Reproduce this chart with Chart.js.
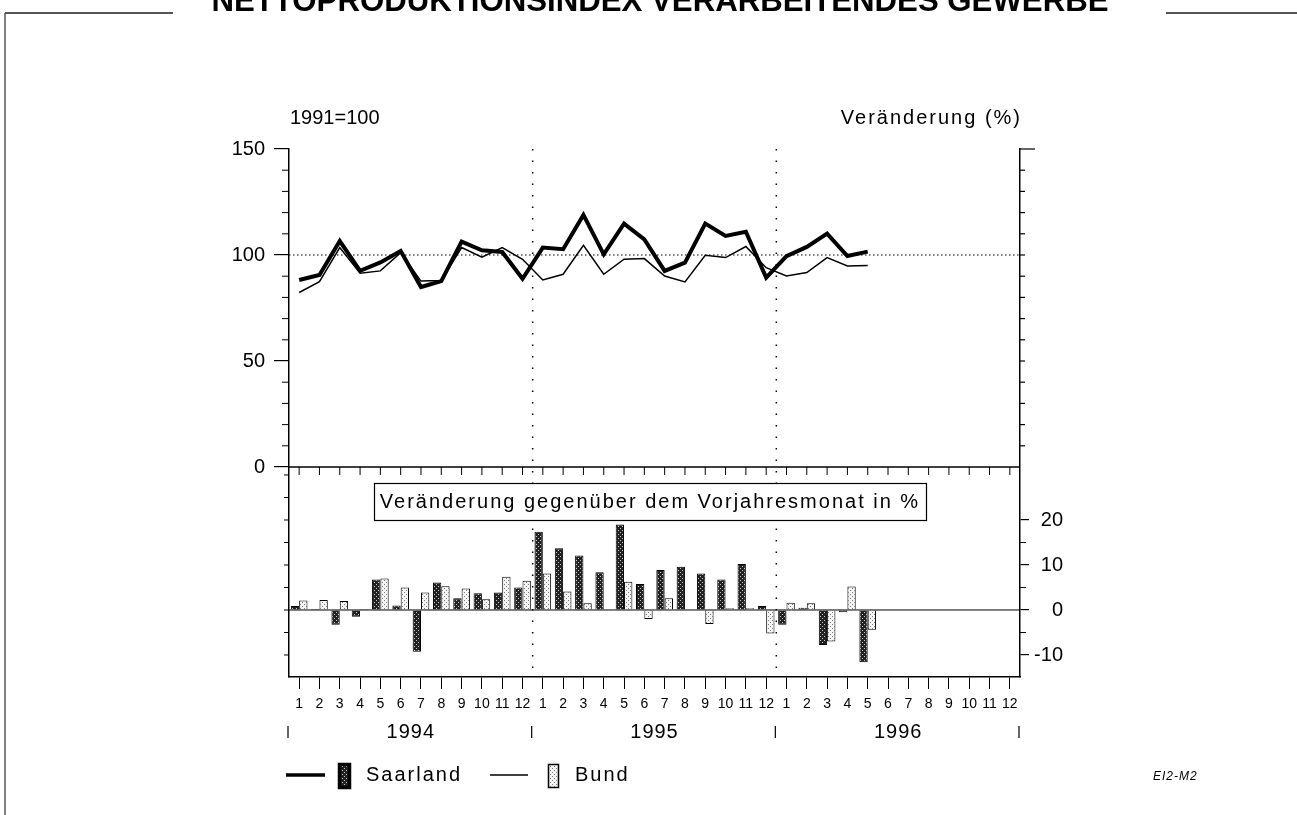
<!DOCTYPE html>
<html>
<head>
<meta charset="utf-8">
<title>Nettoproduktionsindex Verarbeitendes Gewerbe</title>
<script src="https://cdn.jsdelivr.net/npm/chart.js@4.4.1/dist/chart.umd.min.js"></script>
<style>
  html, body { margin: 0; padding: 0; background: #fff; }
  canvas { display: block; }
</style>
</head>
<body>
<canvas id="plotChart" width="1297" height="815"></canvas>
<script>
// Nettoproduktionsindex verarbeitendes Gewerbe: Saarland vs. Bund, 1994-1996

const FONT = '"Liberation Sans", Arial, Helvetica, sans-serif';

// Categories: months of three years
const years = ["1994", "1995", "1996"];
const monthNames = ["1", "2", "3", "4", "5", "6", "7", "8", "9", "10", "11", "12"];
const months = [].concat(monthNames, monthNames, monthNames);

// Index values (1991=100)
const saarIndex = [
  88.2, 90.6, 106.6, 92.5, 96.5, 101.9, 84.9, 87.7, 106.3, 102.2, 101.4, 88.8,
  103.5, 102.7, 118.9, 100.3, 114.8, 107.4, 92.5, 96.4, 114.8, 109.0, 111.0, 89.3,
  99.5, 103.8, 110.1, 99.5, 101.6, null, null, null, null, null, null, null
];
const bundIndex = [
  82.3, 87.4, 103.5, 91.4, 92.5, 101.1, 87.7, 88.0, 103.5, 99.0, 103.5, 98.0,
  88.2, 90.9, 104.6, 90.9, 98.0, 98.3, 90.1, 87.3, 99.9, 98.8, 104.0, 94.0,
  90.1, 91.7, 98.8, 94.8, 95.1, null, null, null, null, null, null, null
];

// Change against the same month of the previous year (%)
const saarChange = [
  0.9, 0.2, -3.3, -1.5, 6.8, 1.0, -9.3, 6.1, 2.6, 3.7, 3.9, 5.0,
  17.4, 13.7, 12.1, 8.4, 19.0, 5.8, 8.9, 9.6, 8.1, 6.8, 10.2, 0.9,
  -3.3, 0.5, -7.8, -0.5, -11.6, null, null, null, null, null, null, null
];
const bundChange = [
  2.1, 2.2, 2.0, 0.2, 7.0, 5.0, 3.9, 5.3, 4.8, 2.4, 7.4, 6.5,
  8.1, 4.1, 1.5, 0.0, 6.3, -2.0, 2.6, 0.0, -3.1, 0.4, 0.4, -5.2,
  1.6, 1.5, -7.0, 5.2, -4.4, null, null, null, null, null, null, null
];

// Tick labels
const indexTicks = [0, 50, 100, 150];
const changeTicks = [-10, 0, 10, 20];

var ctx = document.getElementById("plotChart").getContext("2d");

// stippled fills like the printed original
function makePattern(bg, dot) {
  const c = document.createElement("canvas");
  c.width = 4; c.height = 4;
  const g = c.getContext("2d");
  g.fillStyle = bg;
  g.fillRect(0, 0, 4, 4);
  g.fillStyle = dot;
  g.fillRect(0, 0, 1, 1);
  g.fillRect(2, 2, 1, 1);
  return ctx.createPattern(c, "repeat");
}
const darkFill = makePattern("#222", "#c8c8c8");
const lightFill = makePattern("#f4f4f4", "#7a7a7a");

function line(c, x1, y1, x2, y2, w) {
  c.lineWidth = w;
  c.beginPath();
  c.moveTo(x1, y1);
  c.lineTo(x2, y2);
  c.stroke();
}

// dotted reference lines under the data
const guides = {
  id: "guides",
  beforeDatasetsDraw(chart) {
    const c = chart.ctx, a = chart.chartArea;
    const x = chart.scales.x, yI = chart.scales.y;
    c.save();
    c.strokeStyle = "#000";
    c.setLineDash([1.5, 2.5]);
    const y100 = yI.getPixelForValue(100);
    line(c, a.left, y100, a.right, y100, 1.2);
    c.setLineDash([1.5, 10]);
    for (let k = 1; k < years.length; k++) {
      const px = (x.getPixelForValue(k * 12 - 1) + x.getPixelForValue(k * 12)) / 2;
      line(c, px, a.top, px, a.bottom, 1.5);
    }
    c.restore();
  }
};

// frame, minor ticks, labels, legend
const decor = {
  id: "decor",
  afterDraw(chart) {
    const c = chart.ctx, a = chart.chartArea;
    const x = chart.scales.x, yI = chart.scales.y, yC = chart.scales.y2;
    c.save();
    c.strokeStyle = "#000";
    c.fillStyle = "#000";

    // panel separator with month ticks
    const y0 = yI.getPixelForValue(0);
    line(c, a.left, y0, a.right, y0, 1.5);
    months.forEach((m, i) => {
      const px = x.getPixelForValue(i);
      line(c, px, y0, px, y0 + 8, 1);
    });

    // zero line of the change panel
    const z = yC.getPixelForValue(0);
    line(c, a.left, z, a.right, z, 1);

    // minor ticks upper panel
    for (let v = 10; v <= 150; v += 10) {
      const py = yI.getPixelForValue(v);
      if (v % 50 !== 0) line(c, a.left - 7, py, a.left, py, 1);
      line(c, a.right, py, a.right + (v === 150 ? 15 : 5), py, 1.2);
    }
    // minor ticks lower panel
    for (let v = -10; v <= 30; v += 5) {
      const py = yC.getPixelForValue(v);
      line(c, a.left - 5, py, a.left, py, 1);
      if (v % 10 !== 0 && v < 20) line(c, a.right, py, a.right + 6, py, 1);
    }

    // year labels and separators
    c.font = "20px " + FONT;
    c.letterSpacing = "1px";
    c.textAlign = "center";
    c.textBaseline = "middle";
    years.forEach((yr, k) => {
      const cx = (x.getPixelForValue(k * 12) + x.getPixelForValue(k * 12 + 11)) / 2;
      c.fillText(yr, cx, 732);
    });
    for (let k = 0; k <= years.length; k++) {
      let px;
      if (k === 0) px = a.left;
      else if (k === years.length) px = a.right;
      else px = (x.getPixelForValue(k * 12 - 1) + x.getPixelForValue(k * 12)) / 2;
      line(c, px - 1, 726, px - 1, 738, 1.2);
    }

    // axis captions
    c.letterSpacing = "0px";
    c.textAlign = "left";
    c.fillText("1991=100", 290, 118);
    c.letterSpacing = "2px";
    c.textAlign = "right";
    c.fillText("Veränderung (%)", 1022, 118);

    // boxed caption of the lower panel
    c.fillStyle = "#fff";
    c.fillRect(374, 483, 552, 37);
    c.strokeRect(374.5, 483.5, 552, 37);
    c.fillStyle = "#000";
    c.textAlign = "center";
    c.fillText("Veränderung gegenüber dem Vorjahresmonat in %", 650, 502);

    // legend
    const ly = 775;
    line(c, 286, ly, 325, ly, 3.5);
    c.fillStyle = darkFill;
    c.fillRect(339, 764, 10, 23);
    c.strokeRect(339.5, 764.5, 10, 23);
    line(c, 490, ly, 528, ly, 1.5);
    c.fillStyle = lightFill;
    c.fillRect(548, 764, 10, 23);
    c.strokeRect(548.5, 764.5, 10, 23);
    c.fillStyle = "#000";
    c.textAlign = "left";
    c.fillText("Saarland", 366, ly);
    c.fillText("Bund", 575, ly);

    // sheet code
    c.font = "italic 12px " + FONT;
    c.letterSpacing = "1px";
    c.fillText("EI2-M2", 1153, 777);

    // title, cut at the top edge like the scan
    const title = "NETTOPRODUKTIONSINDEX VERARBEITENDES GEWERBE";
    c.letterSpacing = "0px";
    c.font = "bold 28px " + FONT;
    const size = 28 * 897 / c.measureText(title).width;
    c.font = "bold " + size.toFixed(1) + "px " + FONT;
    c.textAlign = "center";
    c.textBaseline = "alphabetic";
    c.fillText(title, 660, 11);

    // sheet frame
    c.strokeStyle = "#555";
    line(c, 5, 13, 5, 815, 1.5);
    line(c, 5, 13, 173, 13, 2);
    line(c, 1166, 13, 1297, 13, 2);
    c.restore();
  }
};

var plotChart = new Chart(ctx, {
  data: {
    labels: months,
    datasets: [
      {
        type: "line",
        label: "Saarland",
        data: saarIndex,
        yAxisID: "y",
        borderColor: "#000",
        borderWidth: 4,
        pointRadius: 0,
        order: 0,
      },
      {
        type: "line",
        label: "Bund",
        data: bundIndex,
        yAxisID: "y",
        borderColor: "#000",
        borderWidth: 1.5,
        pointRadius: 0,
        order: 1,
      },
      {
        type: "bar",
        label: "Saarland",
        data: saarChange,
        yAxisID: "y2",
        backgroundColor: darkFill,
        borderColor: "#000",
        borderWidth: 1,
        order: 2,
      },
      {
        type: "bar",
        label: "Bund",
        data: bundChange,
        yAxisID: "y2",
        backgroundColor: lightFill,
        borderColor: "#000",
        borderWidth: 1,
        order: 3,
      },
    ],
  },
  options: {
    responsive: false,
    animation: false,
    events: [],
    layout: {
      padding: { left: 229, right: 234, top: 149, bottom: 98 },
    },
    datasets: {
      bar: { categoryPercentage: 0.82, barPercentage: 1.0 },
      line: { tension: 0 },
    },
    plugins: {
      legend: { display: false },
      tooltip: { enabled: false },
    },
    scales: {
      x: {
        position: "bottom",
        offset: true,
        afterFit: (s) => { s.height = 40; },
        ticks: {
          font: { family: FONT, size: 14 },
          color: "#000",
          maxRotation: 0,
          autoSkip: false,
          padding: 7,
        },
        grid: {
          offset: false,
          drawOnChartArea: false,
          tickLength: 12,
          color: "#000",
          lineWidth: 1,
        },
        border: { display: true, color: "#000", width: 1.5 },
      },
      y: {
        position: "left",
        min: -99.06,
        max: 150,
        afterFit: (s) => { s.width = 60; },
        afterBuildTicks: (s) => { s.ticks = indexTicks.map((v) => ({ value: v })); },
        ticks: {
          font: { family: FONT, size: 20 },
          color: "#000",
          padding: 9,
        },
        grid: {
          drawOnChartArea: false,
          tickLength: 15,
          color: "#000",
          lineWidth: 1.2,
        },
        border: { display: true, color: "#000", width: 1.5 },
      },
      y2: {
        position: "right",
        min: -14.89,
        max: 102.44,
        afterFit: (s) => { s.width = 43; },
        afterBuildTicks: (s) => { s.ticks = changeTicks.map((v) => ({ value: v })); },
        ticks: {
          font: { family: FONT, size: 20 },
          color: "#000",
          crossAlign: "far",
          padding: 6,
        },
        grid: {
          drawOnChartArea: false,
          tickLength: 9,
          color: "#000",
          lineWidth: 1.2,
        },
        border: { display: true, color: "#000", width: 1.5 },
      },
    },
  },
  plugins: [guides, decor],
});
</script>
</body>
</html>
